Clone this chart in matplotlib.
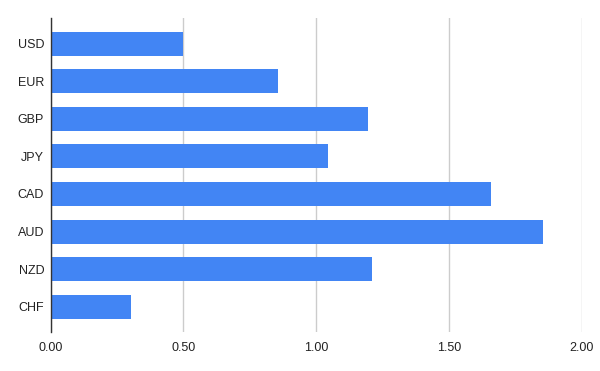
import matplotlib
matplotlib.use("Agg")
import matplotlib.pyplot as plt

currencies = ["USD", "EUR", "GBP", "JPY", "CAD", "AUD", "NZD", "CHF"]
values = [0.50, 0.856, 1.193, 1.043, 1.659, 1.855, 1.208, 0.304]
xticks = [0.0, 0.5, 1.0, 1.5, 2.0]
xticklabels = ["0.00", "0.50", "1.00", "1.50", "2.00"]

plt.rcParams['font.family'] = ['Liberation Sans', 'DejaVu Sans']

fig = plt.figure(figsize=(6, 3.71), dpi=100)
ax = fig.add_axes([50.5/600, 39/371, (582-50.5)/600, (332-18)/371])

pos = list(range(len(currencies)))
ax.barh(pos, values, height=0.64, color="#4285f4", zorder=3)
ax.set_yticks(pos)
ax.set_yticklabels(currencies)
ax.set_ylim(7.67, -0.68)
ax.set_xlim(0, 2.0)
ax.set_xticks(xticks)
ax.set_xticklabels(xticklabels)

ax.grid(axis="x", color="#cccccc", linewidth=1, zorder=0)
for s in ["top", "right", "bottom"]:
    ax.spines[s].set_visible(False)
ax.spines["left"].set_color("#333333")
ax.spines["left"].set_linewidth(1)
ax.spines["left"].set_zorder(4)
ax.tick_params(axis="both", length=0, labelsize=9, colors="#222222")
ax.tick_params(axis="y", pad=4.5)
ax.tick_params(axis="x", pad=7)

fig.savefig("out.png", dpi=100)
